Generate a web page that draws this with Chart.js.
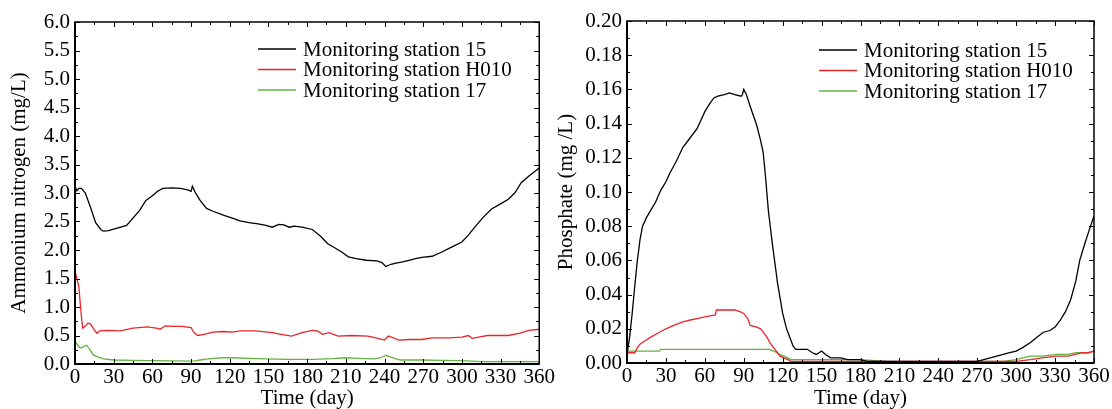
<!DOCTYPE html>
<html>
<head>
<meta charset="utf-8">
<script src="https://cdn.jsdelivr.net/npm/chart.js@4"></script>
<style>
  body { margin: 0; background: #fff; }
  .wrap { display: flex; width: 1112px; height: 409px; }
  canvas { display: block; }
</style>
</head>
<body>
<div class="wrap">
  <canvas id="nh4-chart" width="556" height="409"></canvas>
  <canvas id="po4-chart" width="556" height="409"></canvas>
</div>
<script>
const seriesNames = ['Monitoring station 15', 'Monitoring station H010', 'Monitoring station 17'];

// ammonium nitrogen (mg/L)
const nh4Days15 = [0,1.5,3,5,8,12,16,20,22,26,32,40,50,55,60,64,68,75,82,88,90,91,93,97,102,107,115,122,128,135,142,148,153,158,162,166,170,176,184,190,196,202,207,212,218,226,234,238,241,245,249,254,259,264,269,277,284,292,300,305,310,316,323,330,336,341,346,352,360];
const nh4Vals15 = [3.12,3.04,3.08,3.08,3.0,2.75,2.48,2.36,2.33,2.34,2.38,2.43,2.69,2.87,2.95,3.03,3.08,3.09,3.08,3.05,3.03,3.12,3.02,2.87,2.73,2.68,2.61,2.56,2.51,2.48,2.46,2.43,2.40,2.45,2.44,2.40,2.42,2.40,2.36,2.25,2.11,2.03,1.96,1.88,1.85,1.82,1.81,1.78,1.71,1.75,1.77,1.79,1.82,1.85,1.87,1.89,1.96,2.05,2.14,2.26,2.40,2.56,2.72,2.81,2.89,3.0,3.18,3.3,3.44];

const nh4DaysH010 = [0,1,3,5,6,8,10,12,15,17,19,25,35,45,56,63,66,70,76,83,90,92,95,100,107,115,122,128,140,153,160,168,176,184,188,192,197,204,215,227,235,240,243,247,251,260,269,277,290,300,305,308,315,320,336,345,352,360];
const nh4ValsH010 = [1.62,1.55,1.35,0.82,0.63,0.66,0.72,0.70,0.60,0.54,0.58,0.59,0.58,0.63,0.65,0.63,0.61,0.67,0.66,0.66,0.64,0.56,0.50,0.52,0.56,0.57,0.56,0.58,0.58,0.55,0.52,0.49,0.55,0.59,0.58,0.52,0.55,0.49,0.50,0.49,0.45,0.42,0.49,0.46,0.42,0.43,0.43,0.46,0.46,0.47,0.50,0.45,0.48,0.50,0.50,0.54,0.59,0.61];

const nh4Days17 = [0,1,3,5,7,9,12,14,18,22,30,45,58,75,88,93,97,102,107,115,122,135,148,165,184,200,209,220,232,237,241,245,252,269,285,300,315,335,360];
const nh4Vals17 = [0.40,0.37,0.30,0.28,0.31,0.33,0.24,0.16,0.12,0.09,0.07,0.065,0.06,0.055,0.05,0.055,0.07,0.085,0.10,0.11,0.11,0.10,0.09,0.08,0.08,0.095,0.11,0.10,0.09,0.11,0.15,0.12,0.07,0.07,0.065,0.06,0.04,0.04,0.04];

// phosphate (mg/L)
const po4Days15 = [0,2,4,6,8,10,12,15,18,22,26,30,33,38,43,48,54,60,64,67,70,75,79,83,88,89,90,92,95,100,103,105,107,109,112,116,120,123,126,128,130,135,139,143,146,148,150,153,157,165,170,180,185,200,215,225,235,250,270,275,280,285,290,295,300,305,311,316,321,326,330,334,338,342,346,349,353,356,360];
const po4Vals15 = [0.005,0.015,0.029,0.045,0.060,0.072,0.080,0.085,0.089,0.094,0.101,0.106,0.111,0.118,0.126,0.131,0.137,0.147,0.152,0.155,0.156,0.157,0.158,0.157,0.156,0.157,0.160,0.157,0.150,0.139,0.130,0.123,0.107,0.089,0.070,0.047,0.029,0.020,0.014,0.010,0.008,0.008,0.008,0.006,0.005,0.006,0.007,0.005,0.003,0.003,0.002,0.002,0.001,0.001,0.001,0.001,0.001,0.001,0.001,0.002,0.003,0.004,0.005,0.006,0.007,0.009,0.012,0.015,0.018,0.019,0.021,0.025,0.030,0.037,0.048,0.060,0.070,0.077,0.086];

const po4DaysH010 = [0,3,6,8,10,14,18,25,30,36,43,48,54,60,67,68,69,75,83,87,90,93,95,100,103,105,108,110,113,116,118,121,124,126,130,180,200,270,290,300,311,320,331,340,351,356,360];
const po4ValsH010 = [0.006,0.006,0.006,0.009,0.011,0.013,0.015,0.018,0.020,0.022,0.024,0.025,0.026,0.027,0.028,0.028,0.031,0.031,0.031,0.030,0.029,0.026,0.022,0.021,0.020,0.018,0.015,0.012,0.009,0.006,0.004,0.003,0.002,0.001,0.001,0.001,0.001,0.001,0.001,0.001,0.002,0.003,0.004,0.004,0.006,0.006,0.007];

const po4Days17 = [0,25,26,110,113,118,121,124,126,130,180,200,265,270,290,300,305,311,320,331,340,346,355,360];
const po4Vals17 = [0.007,0.007,0.008,0.008,0.007,0.005,0.004,0.003,0.002,0.002,0.002,0.001,0.0005,0.001,0.001,0.002,0.003,0.004,0.004,0.005,0.005,0.006,0.006,0.007];

const colors = ['#000000', '#e8262a', '#62b340'];

Chart.defaults.font.family = '"Liberation Serif", "Times New Roman", serif';
Chart.defaults.font.size = 21;
Chart.defaults.color = '#000';

function toPoints(days, vals) {
    return days.map((d, i) => ({x: d, y: vals[i]}));
}

function line(ctx, x1, y1, x2, y2) {
    ctx.beginPath();
    ctx.moveTo(x1, y1);
    ctx.lineTo(x2, y2);
    ctx.stroke();
}

// box round the plot with inward ticks on all four sides
const frameTicks = {
    id: 'frameTicks',
    afterDatasetsDraw(chart, args, opts) {
        const {ctx, chartArea: a, scales: {x, y}} = chart;
        ctx.save();
        ctx.strokeStyle = '#000';
        ctx.lineWidth = 1;
        const nx = Math.round((x.max - x.min) / opts.xMinor);
        for (let i = 0; i <= nx; i++) {
            const px = Math.round(x.getPixelForValue(x.min + i * opts.xMinor)) + 0.5;
            const len = i % opts.xEvery === 0 ? 5 : 3;
            line(ctx, px, a.bottom, px, a.bottom - len);
            line(ctx, px, a.top, px, a.top + len);
        }
        const ny = Math.round((y.max - y.min) / opts.yMinor);
        for (let i = 0; i <= ny; i++) {
            const py = Math.round(y.getPixelForValue(y.min + i * opts.yMinor)) + 0.5;
            const len = i % opts.yEvery === 0 ? 5 : 3;
            line(ctx, a.left, py, a.left + len, py);
            line(ctx, a.right, py, a.right - len, py);
        }
        ctx.lineWidth = 1.5;
        ctx.strokeRect(a.left, a.top, a.right - a.left, a.bottom - a.top);
        ctx.lineWidth = 2;
        line(ctx, a.left, a.top, a.left, a.bottom + 1);
        line(ctx, a.left - 1, a.bottom, a.right, a.bottom);
        ctx.restore();
    }
};

// legend drawn inside the plot, upper right
const inLegend = {
    id: 'inLegend',
    afterDraw(chart, args, opts) {
        const {ctx, chartArea: a} = chart;
        ctx.save();
        chart.data.datasets.forEach((ds, i) => {
            const yy = a.top + opts.top + i * opts.gap;
            const x0 = a.left + opts.left;
            ctx.strokeStyle = ds.borderColor;
            ctx.lineWidth = 1.3;
            line(ctx, x0, yy, x0 + 38, yy);
            ctx.fillStyle = '#000';
            ctx.font = '21px "Liberation Serif"';
            ctx.textBaseline = 'middle';
            ctx.fillText(ds.label, x0 + 45, yy + 1);
        });
        ctx.restore();
    }
};

function makeChart(canvas, sets, cfg) {
    return new Chart(canvas.getContext('2d'), {
        type: 'line',
        data: {
            datasets: sets.map((s, i) => ({
                label: seriesNames[i],
                data: toPoints(s[0], s[1]),
                borderColor: colors[i],
                backgroundColor: colors[i],
                borderWidth: 1.3,
                pointRadius: 0,
                tension: 0
            }))
        },
        options: {
            responsive: false,
            animation: false,
            layout: {padding: {top: cfg.padTop, right: cfg.padRight, left: 0, bottom: 0}},
            plugins: {
                legend: {display: false},
                tooltip: {enabled: false},
                inLegend: cfg.legend,
                frameTicks: cfg.ticks
            },
            scales: {
                x: {
                    type: 'linear',
                    min: 0, max: 360,
                    grid: {display: false, drawTicks: false},
                    border: {display: false},
                    ticks: {stepSize: 30, padding: 1, maxRotation: 0, autoSkip: false},
                    title: {display: true, text: 'Time (day)', font: {lineHeight: 1}, padding: 0},
                    afterFit: s => { s.height = cfg.xHeight; }
                },
                y: {
                    min: cfg.yMin, max: cfg.yMax,
                    grid: {display: false, drawTicks: false},
                    border: {display: false},
                    ticks: {stepSize: cfg.yStep, padding: 5, callback: v => v.toFixed(cfg.yDigits)},
                    title: {display: true, text: cfg.yTitle, font: {lineHeight: 1}, padding: {top: cfg.titlePad}},
                    afterFit: s => { s.width = cfg.yWidth; }
                }
            }
        },
        plugins: [frameTicks, inLegend]
    });
}

makeChart(document.querySelector('#nh4-chart'),
    [[nh4Days15, nh4Vals15], [nh4DaysH010, nh4ValsH010], [nh4Days17, nh4Vals17]],
    {
        yMin: 0, yMax: 6, yStep: 0.5, yDigits: 1, yTitle: 'Ammonium nitrogen (mg/L)',
        padTop: 22, padRight: 15, xHeight: 45, yWidth: 75, titlePad: 9,
        legend: {left: 183, top: 27, gap: 20.5},
        ticks: {xMinor: 15, xEvery: 2, yMinor: 0.25, yEvery: 2}
    });

makeChart(document.querySelector('#po4-chart'),
    [[po4Days15, po4Vals15], [po4DaysH010, po4ValsH010], [po4Days17, po4Vals17]],
    {
        yMin: 0, yMax: 0.2, yStep: 0.02, yDigits: 2, yTitle: 'Phosphate (mg /L)',
        padTop: 21, padRight: 18, xHeight: 46, yWidth: 71, titlePad: 0,
        legend: {left: 192, top: 29, gap: 20.5},
        ticks: {xMinor: 15, xEvery: 2, yMinor: 0.01, yEvery: 2}
    });
</script>
</body>
</html>
